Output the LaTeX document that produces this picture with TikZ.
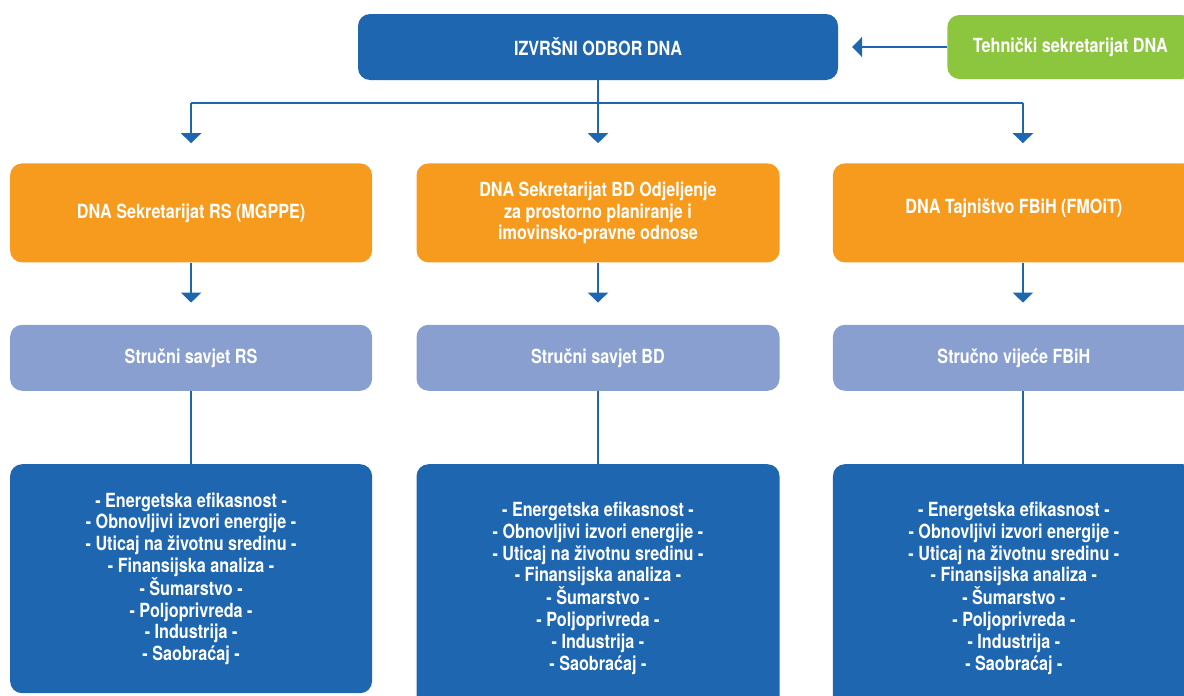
\documentclass[tikz,border=0pt]{standalone}
\usepackage{fontspec}
\setmainfont{TeX Gyre Heros}[FakeStretch=0.83]
\usetikzlibrary{positioning,arrows.meta}
\definecolor{dnablue}{RGB}{31,102,176}
\definecolor{dnaorange}{RGB}{247,155,31}
\definecolor{dnaviolet}{RGB}{137,159,208}
\definecolor{dnagreen}{RGB}{140,198,63}

\begin{document}
\begin{tikzpicture}[
  x=1pt, y=-1pt,
  font=\bfseries\fontsize{19.5}{21.7}\selectfont,
  box/.style={rounded corners=12pt, align=center, text=white, inner sep=0pt, minimum width=362pt},
  sec/.style={box, fill=dnaorange, minimum height=99pt},
  savjet/.style={box, fill=dnaviolet, minimum height=66pt},
  teme/.style={box, fill=dnablue},
  ln/.style={draw=dnablue, line width=2.2pt},
  arr/.style={ln, -{Triangle[width=20pt, length=10pt]}}
]
\useasboundingbox (0,0) rectangle (1184,696);
\node[box, fill=dnablue, minimum width=480pt, minimum height=66pt] (odbor) at (598,47)
  {IZVRŠNI ODBOR DNA};
\node[box, fill=dnagreen, minimum width=246pt, minimum height=64pt, right=109pt of odbor] (tehn)
  {Tehnički sekretarijat DNA};
\node[sec, minimum width=363pt, below=83pt of odbor] (secbd)
  {DNA Sekretarijat BD Odjeljenje\\za prostorno planiranje i\\imovinsko-pravne odnose};
\node[sec, left=44pt of secbd] (secrs) {DNA Sekretarijat RS (MGPPE)};
\node[sec, right=53pt of secbd] (secfb) {\raisebox{14pt}{DNA Tajništvo FBiH (FMOiT)}};
\node[savjet, below=62pt of secrs] (svrs) {Stručni savjet RS};
\node[savjet, minimum width=363pt, below=62pt of secbd] (svbd) {Stručni savjet BD};
\node[savjet, below=62pt of secfb] (svfb) {Stručno vijeće FBiH};
\newcommand\temelist{- Energetska efikasnost -\\- Obnovljivi izvori energije -\\- Uticaj na životnu sredinu -\\- Finansijska analiza -\\- Šumarstvo -\\- Poljoprivreda -\\- Industrija -\\- Saobraćaj -}
\node[teme, minimum height=229pt, below=73pt of svrs] (tmrs) {\temelist};
\node[teme, minimum height=248pt, minimum width=363pt, below=73pt of svbd] (tmbd) {\temelist};
\node[teme, minimum height=248pt, below=73pt of svfb] (tmfb) {\temelist};
\coordinate (bus) at (0,103);
\draw[arr, shorten >=14pt] (tehn.west) -- (tehn.west -| odbor.east);
\draw[ln] (secrs.north |- bus) -- ([xshift=9pt]secfb.north |- bus);
\draw[arr, shorten >=20pt] (odbor) -- (secbd);
\draw[arr, shorten >=20pt] (secrs.north |- bus) -- (secrs.north);
\draw[arr, shorten >=20pt] ([xshift=9pt]secfb.north |- bus) -- ([xshift=9pt]secfb.north);
\draw[arr, shorten >=22pt] (secrs) -- (svrs);
\draw[arr, shorten >=22pt] (secbd) -- (svbd);
\draw[arr, shorten >=22pt] ([xshift=9pt]secfb.south) -- ([xshift=9pt]svfb.north);
\draw[ln] (svrs) -- (tmrs);
\draw[ln] (svbd) -- (tmbd);
\draw[ln] ([xshift=9pt]svfb.south) -- ([xshift=9pt]tmfb.north);
\end{tikzpicture}
\end{document}
